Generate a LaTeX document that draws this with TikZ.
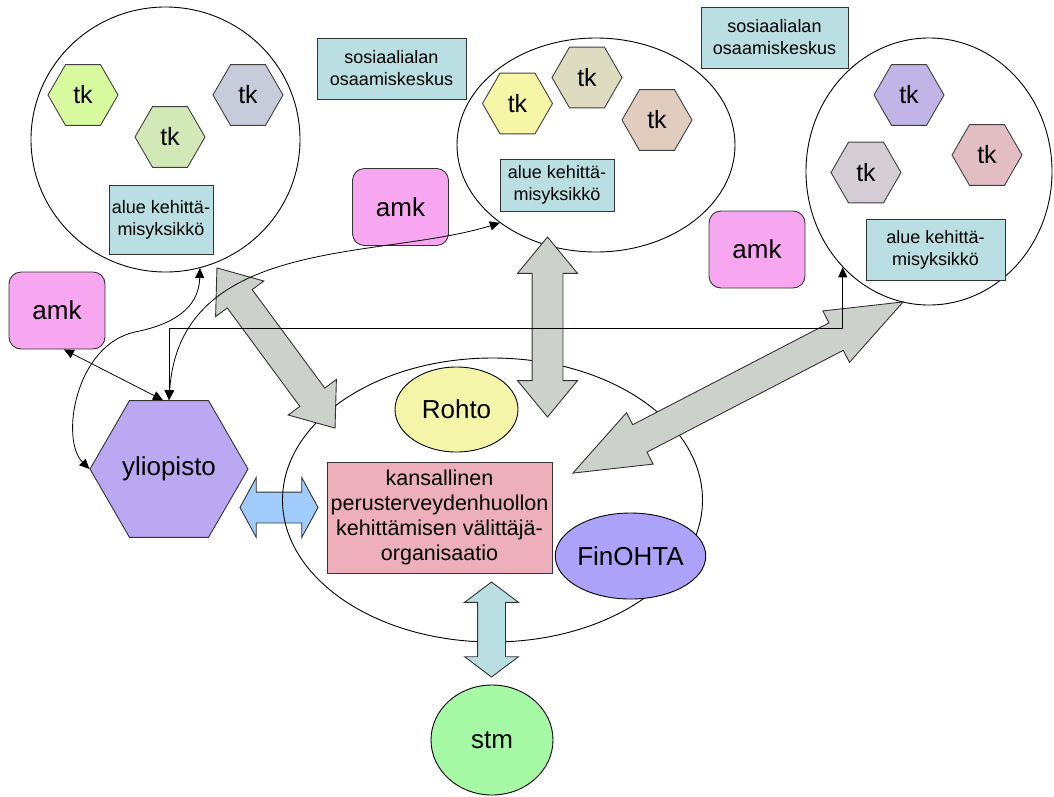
\documentclass[tikz,border=0pt]{standalone}
\usepackage{fontspec}
\setmainfont{Liberation Sans}
\usepackage{tikz}
\usetikzlibrary{positioning, shapes, arrows.meta, calc}

\definecolor{amkpink}{HTML}{F7A6F0}
\definecolor{boxcyan}{HTML}{BADFE3}
\definecolor{tklime}{HTML}{D8FBA0}
\definecolor{tkgreen}{HTML}{D2E8B6}
\definecolor{tkslate}{HTML}{C8CCDA}
\definecolor{tkyellow}{HTML}{F5F6A6}
\definecolor{tkolive}{HTML}{DDDBC0}
\definecolor{tktan}{HTML}{E0CDBE}
\definecolor{tkpurple}{HTML}{C0B5E6}
\definecolor{tkgrey}{HTML}{D4CED4}
\definecolor{tkrose}{HTML}{E2BEC4}
\definecolor{yliviolet}{HTML}{BAA8F2}
\definecolor{orgpink}{HTML}{ECAFBB}
\definecolor{rohtoyellow}{HTML}{F4F5A8}
\definecolor{finviolet}{HTML}{ACA2FA}
\definecolor{stmgreen}{HTML}{A6FAA6}
\definecolor{arrowgray}{HTML}{CDD1CC}
\definecolor{arrowblue}{HTML}{A0CCFC}

\tikzset{
  bigtext/.style={font=\fontsize{26}{30}\selectfont},
  tkhex/.style={regular polygon, regular polygon sides=6, draw=black!75, line width=0.9pt,
    minimum size=70pt, inner sep=0pt, font=\fontsize{25}{28}\selectfont},
  kbox/.style={rectangle, draw=black!80, line width=0.9pt, fill=boxcyan, inner sep=0pt,
    align=center, font=\fontsize{18}{22}\selectfont},
  amkbox/.style={rectangle, rounded corners=12pt, draw=black!80, line width=0.9pt, fill=amkpink,
    minimum width=96pt, minimum height=77pt, bigtext},
  area/.style={ellipse, draw, line width=0.9pt, inner sep=0pt},
  blob/.style={ellipse, draw, line width=0.9pt, inner sep=0pt, bigtext},
  bigarrow/.style={double arrow, draw=black!80, line width=0.9pt, inner xsep=0pt, inner ysep=15pt,
    fill=arrowgray, double arrow head extend=14.5pt},
  link/.style={{Triangle[length=10pt,width=9pt]}-{Triangle[length=10pt,width=9pt]}, line width=0.8pt},
}

\begin{document}
\begin{tikzpicture}[x=1pt, y=-1pt]
\useasboundingbox (0,0) rectangle (1054,796);

% block arrow under the central area
\node[bigarrow, fill=arrowblue, minimum height=78pt, double arrow tip angle=123] (blue) at (279,507.5) {};

% alue 1
\node[area, minimum width=269pt, minimum height=265pt] (c1) at (165.5,139.5) {};
\node[tkhex, fill=tklime] (tk11) at (83,95) {tk};
\node[tkhex, fill=tkgreen] (tk12) at (170,137) {tk};
\node[tkhex, fill=tkslate] (tk13) at (248,95) {tk};
\node[kbox, minimum width=104pt, minimum height=69pt] (ke1) at (161,219.5) {alue kehittä-\\misyksikkö};

% alue 2
\node[area, minimum width=278pt, minimum height=214pt] (c2) at (596,145) {};
\node[tkhex, fill=tkyellow] (tk21) at (517.5,103.5) {tk};
\node[tkhex, fill=tkolive] (tk22) at (587,77.5) {tk};
\node[tkhex, fill=tktan] (tk23) at (657,120) {tk};
\node[kbox, minimum width=114pt, minimum height=52pt] (ke2) at (557,185) {alue kehittä-\\misyksikkö};

% alue 3
\node[area, minimum width=246pt, minimum height=267pt] (c3) at (929,171.5) {};
\node[tkhex, fill=tkpurple] (tk31) at (909,95) {tk};
\node[tkhex, fill=tkgrey] (tk32) at (866,172.5) {tk};
\node[tkhex, fill=tkrose] (tk33) at (987,155) {tk};
\node[kbox, minimum width=139pt, minimum height=61pt] (ke3) at (935.5,249.5) {alue kehittä-\\misyksikkö};

% osaamiskeskukset ja amk
\node[kbox, minimum width=149pt, minimum height=61pt] (so1) at (391.5,68.5) {sosiaalialan\\osaamiskeskus};
\node[kbox, minimum width=147pt, minimum height=61pt] (so2) at (774.5,37.5) {sosiaalialan\\osaamiskeskus};
\node[amkbox] (amk1) at (57,310.5) {amk};
\node[amkbox] (amk2) at (400.5,207) {amk};
\node[amkbox] (amk3) at (757,249.5) {amk};

% yliopisto
\node[regular polygon, regular polygon sides=6, draw=black!80, line width=0.9pt, fill=yliviolet,
  minimum size=158pt, inner sep=0pt, bigtext] (yli) at (169,469) {yliopisto};

% valtakunnallinen taso
\node[area, minimum width=420pt, minimum height=284pt] (org) at (492.5,500) {};
\node[blob, fill=rohtoyellow, minimum width=123pt, minimum height=85pt] (rohto) at (456.5,409.5) {Rohto};
\node[blob, fill=finviolet, minimum width=123pt, minimum height=86pt] (fin) at (630.5,556) {FinOHTA};
\node[rectangle, draw=black!80, line width=0.9pt, fill=orgpink, inner sep=0pt, align=center,
  minimum width=225pt, minimum height=111pt, font=\fontsize{21.5}{25}\selectfont] (vo) at (439.5,517.5)
  {kansallinen\\perusterveydenhuollon\\kehittämisen välittäjä-\\organisaatio};
\node[blob, fill=stmgreen, minimum width=122pt, minimum height=110pt] (stm) at (492,740) {stm};

% block arrows
\node[bigarrow, minimum height=199pt, rotate=-53.6, double arrow tip angle=76] (ga1) at (276,348) {};
\node[bigarrow, minimum height=180pt, rotate=90, double arrow tip angle=79] (ga2) at (547.5,327) {};
\node[bigarrow, minimum height=372pt, rotate=27.4, double arrow tip angle=42,
  double arrow head extend=13.5pt] (ga3) at (738,387.5) {};
\node[bigarrow, fill=boxcyan, minimum height=95pt, rotate=90, double arrow tip angle=106,
  inner ysep=13.5pt, double arrow head extend=13pt] (cyan) at (491.5,629.5) {};

% yhteydet
\draw[link] (c1.-75) .. controls (199,310) and (170,325) .. (135,332)
  .. controls (75,345) and (60,440) .. (yli.west);
\draw[link] (amk1.-80) -- (yli.95);
\draw[link] (c2.219) .. controls (380,260) and (180,235) .. (yli.north);
\draw[link] (c3.228) -- ++(0,61) -| (yli.north);

\end{tikzpicture}
\end{document}
